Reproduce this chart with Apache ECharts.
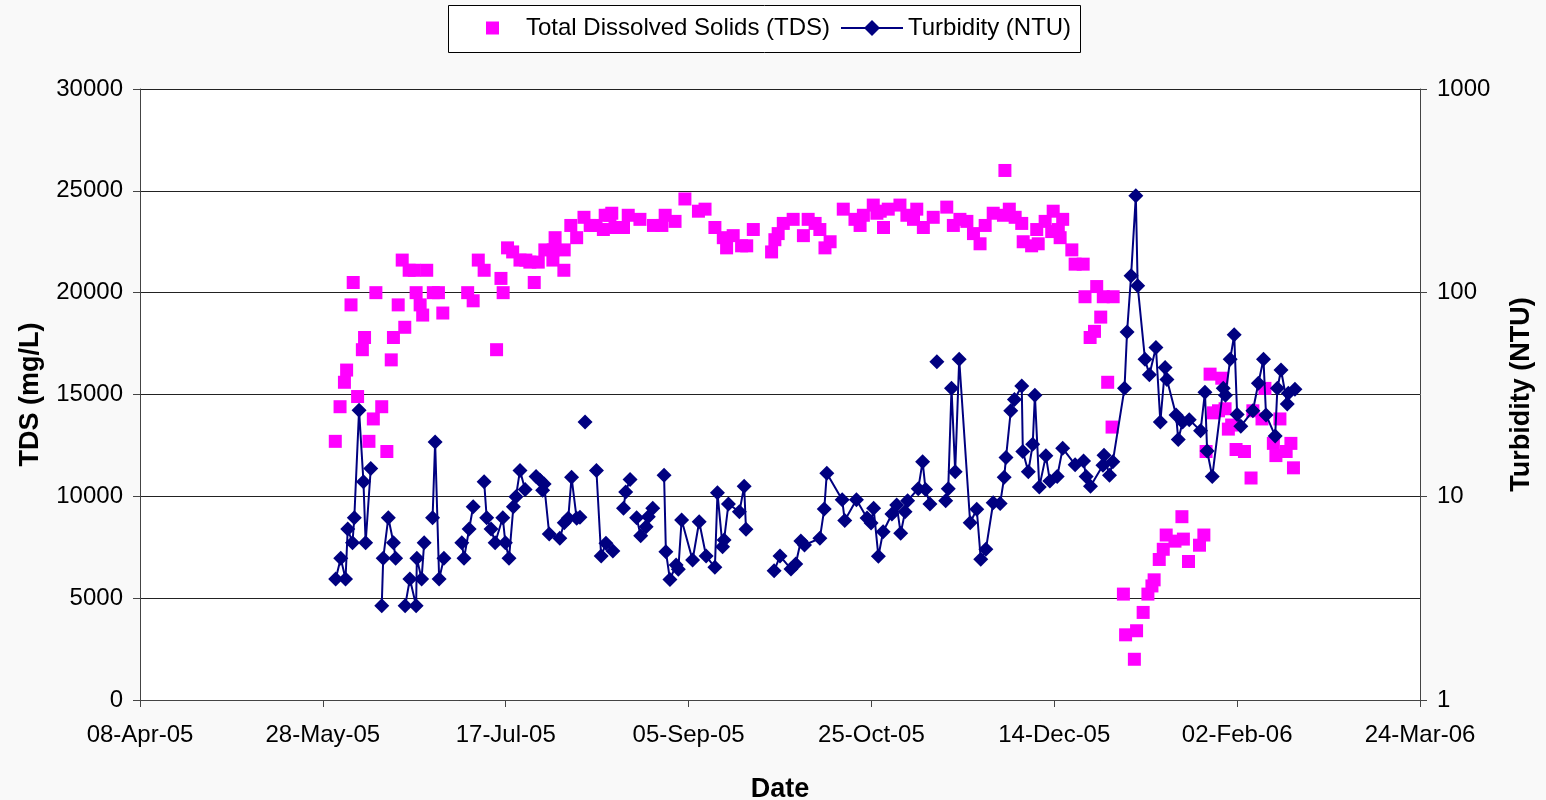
<!DOCTYPE html>
<html>
<head>
<meta charset="utf-8">
<script src="https://cdn.jsdelivr.net/npm/echarts@6/dist/echarts.min.js"></script>
<style>
html,body{margin:0;padding:0;background:#f9f9f9;}
#chart{width:1546px;height:800px;}
</style>
</head>
<body>
<div id="chart"></div>
<script>
// Sampling day = days since 08-Apr-2005
var startDate = '2005-04-08';
var xTickDays = [0, 50, 100, 150, 200, 250, 300, 350];

var tdsDays = [53.4,54.7,55.9,56.5,57.7,58.3,59.5,60.8,61.4,62.6,63.8,64.5,66.1,67.5,68.7,69.3,70.6,71.7,72.4,73.6,75.0,75.5,76.6,77.3,78.4,80.2,81.6,82.8,89.6,91.1,92.5,94.1,97.5,98.7,99.3,100.5,101.9,103.9,105.5,106.6,107.8,108.9,110.7,112.9,113.0,113.5,115.9,116.0,117.8,119.4,121.4,123.1,124.7,126.7,127.2,128.5,129.0,129.9,132.2,133.5,136.7,140.4,142.7,143.6,146.3,149.0,152.7,154.5,157.2,159.5,160.4,162.2,164.5,165.9,167.7,172.7,173.6,174.5,175.9,178.6,181.4,182.7,184.6,185.9,187.3,188.7,192.3,195.5,196.9,197.8,200.5,201.5,202.4,203.3,204.6,207.8,209.7,211.5,212.4,214.2,216.9,220.6,222.4,224.2,226.1,227.9,229.7,231.1,233.3,236.1,236.5,237.7,239.3,241.1,241.5,243.8,245.2,245.6,247.5,249.3,249.7,251.1,251.6,252.3,254.8,255.7,257.9,258.4,259.8,261.0,261.6,262.7,263.4,264.6,265.8,266.1,268.9,269.5,271.9,272.5,274.3,275.6,276.7,277.3,278.7,279.8,280.6,283.0,284.9,285.3,286.7,289.7,290.9,291.5,292.6,293.5,294.9,295.8,296.7,297.6,298.5,299.7,302.0,303.8,304.3,306.8,307.6,309.9,310.6,311.7,313.4,314.7,315.4];
var tdsValues = [12700,14400,15600,16200,19400,20500,14900,17200,17800,12700,13800,20000,14400,12200,16700,17800,19400,21600,18300,21100,21100,20000,19400,18900,21100,20000,20000,19000,20000,19600,21600,21100,17200,20700,20000,22200,22000,21600,21600,21500,20500,21500,22100,21600,22100,22700,21100,22100,23300,22700,23700,23300,23300,23100,23800,23800,23900,23200,23200,23800,23600,23300,23300,23800,23500,24600,24000,24100,23200,22700,22200,22800,22300,22300,23100,22000,22600,22900,23400,23600,22800,23600,23400,23100,22200,22500,24100,23600,23300,23800,24300,23900,24000,23200,24100,24300,23800,23600,24100,23200,23700,24200,23300,23600,23500,22900,22400,23300,23900,23800,26000,24100,23700,23400,22500,22300,23100,22400,23500,23000,24000,23100,22700,23600,22100,21400,21400,19800,17800,18100,20300,18800,19800,15600,13400,19800,5200,3200,2000,3400,4300,5200,5600,5900,6900,7400,8100,7800,9000,7900,6800,7600,8100,12200,16000,14100,14200,15800,14300,13300,13500,12300,12200,10900,14200,13800,15300,12600,12000,13800,12200,12600,11400];

var turbDays = [53.5,54.9,56.2,56.8,58.1,58.6,59.9,61.1,61.7,63.1,64.5,66.1,66.5,67.9,69.3,69.9,71.0,72.5,73.8,75.5,75.7,77.0,77.7,79.0,80.0,80.7,81.8,83.1,85.0,88.0,88.6,90.0,91.1,92.5,94.1,94.8,96.0,97.1,99.2,99.9,100.9,102.1,102.8,103.9,105.3,106.8,108.3,109.4,110.1,110.5,111.9,114.8,116.0,117.1,118.0,119.4,120.3,121.0,121.7,122.5,124.8,126.1,127.4,129.3,130.7,132.2,132.8,134.0,134.9,135.8,136.9,138.4,139.0,140.2,141.8,143.3,143.8,144.9,146.6,147.2,148.1,151.1,152.9,154.8,157.2,157.9,159.3,159.7,160.9,163.9,165.2,165.7,170.0,173.4,175.0,178.0,179.3,180.7,181.7,185.9,187.1,187.8,192.0,192.7,195.9,198.8,199.9,200.6,201.9,203.2,205.6,206.9,208.0,209.2,209.9,212.8,214.0,214.8,216.0,217.0,217.9,219.0,220.3,221.0,221.9,222.9,224.0,227.0,228.8,229.9,231.3,233.3,235.2,236.3,236.8,238.1,239.1,241.1,241.4,242.9,244.1,244.7,245.9,247.7,248.8,250.8,252.3,255.7,258.0,258.7,259.9,263.3,263.6,265.1,266.0,269.2,269.9,271.0,272.3,272.8,274.8,276.0,277.8,279.0,280.3,280.8,283.3,283.9,285.1,286.9,290.0,291.2,291.8,293.2,296.2,296.8,298.1,299.2,300.0,301.0,304.3,305.8,307.2,307.9,310.4,311.0,312.0,313.7,314.0,315.8];
var turbValues = [3.93,4.96,3.93,6.91,5.92,7.85,26.5,11.8,5.92,13.7,null,2.90,4.96,7.85,5.92,4.96,null,2.90,3.93,2.90,4.96,3.93,5.92,null,7.85,18.5,3.93,4.96,null,5.92,4.96,6.91,8.89,null,11.8,7.85,6.91,5.92,7.85,5.92,4.96,8.89,9.96,13.4,10.8,null,12.5,12.0,10.7,11.5,6.53,6.22,7.42,7.80,12.4,7.80,7.89,null,23.2,null,13.4,5.09,5.88,5.39,null,8.73,10.5,12.1,null,7.85,6.41,7.09,7.94,8.73,null,12.7,5.35,3.91,4.60,4.38,7.65,4.87,7.50,5.09,4.48,10.4,5.66,6.10,9.17,8.40,11.2,6.89,null,4.31,5.09,4.40,4.65,6.03,5.77,6.22,8.66,13.0,9.62,7.61,9.62,7.83,7.40,8.73,5.08,6.70,8.19,9.06,6.58,8.40,9.51,10.9,14.8,10.8,9.17,null,45.8,null,9.51,10.9,33.9,13.2,47.1,7.42,8.64,4.91,5.49,9.30,9.23,12.4,15.5,26.3,29.9,34.8,16.6,13.2,18.0,31.4,11.1,15.8,11.9,12.5,17.2,14.3,14.9,12.5,11.2,14.2,15.9,12.7,14.8,33.9,64.1,121,299,108,47.1,39.5,53.8,23.2,42.9,37.5,25.1,19.0,23.2,23.8,21.0,32.4,16.7,12.5,33.9,31.4,47.1,62.1,25.2,22.1,26.3,35.9,47.1,25.1,19.8,33.9,41.7,28.4,32.1,33.6];

var tdsName = 'Total Dissolved Solids (TDS)';
var turbName = 'Turbidity (NTU)';

var MONTHS = ['Jan','Feb','Mar','Apr','May','Jun','Jul','Aug','Sep','Oct','Nov','Dec'];
function dayLabel(d) {
  var base = new Date(startDate + 'T00:00:00Z');
  var t = new Date(base.getTime() + Math.round(d) * 86400000);
  var dd = ('0' + t.getUTCDate()).slice(-2);
  var yy = ('0' + (t.getUTCFullYear() % 100)).slice(-2);
  return dd + '-' + MONTHS[t.getUTCMonth()] + '-' + yy;
}

var tdsData = tdsDays.map(function (d, i) { return [d, tdsValues[i]]; });
var turbData = turbDays.map(function (d, i) { return [d, turbValues[i] == null ? '-' : turbValues[i]]; });

var FONT = '"Liberation Sans", Arial, sans-serif';
var chart = echarts.init(document.getElementById('chart'), null, {renderer: 'canvas'});
chart.setOption({
  backgroundColor: '#f9f9f9',
  animation: false,
  textStyle: {fontFamily: FONT},
  grid: {left: 140, right: 126, top: 89, bottom: 100, show: true, backgroundColor: '#ffffff',
    borderWidth: 0, containLabel: false, outerBoundsMode: 'none'},
  graphic: [{
    type: 'rect', left: 448, top: 5, z: -1,
    shape: {width: 632, height: 47},
    style: {fill: '#ffffff', stroke: '#000000', lineWidth: 1}
  }],
  legend: [{
    data: [{name: tdsName, icon: 'rect'}],
    left: 481, top: 11, itemWidth: 13, itemHeight: 13,
    textStyle: {fontFamily: FONT, fontSize: 24, color: '#000', padding: [0, 0, 0, 22]}
  }, {
    data: [{name: turbName}],
    left: 835, top: 11, itemWidth: 62, itemHeight: 20,
    lineStyle: {width: 2},
    textStyle: {fontFamily: FONT, fontSize: 24, color: '#000', padding: [0, 0, 0, 0]}
  }],
  xAxis: {
    type: 'value', min: 0, max: 350, interval: 50,
    name: 'Date', nameLocation: 'middle', nameGap: 76,
    nameTextStyle: {fontFamily: FONT, fontSize: 27, fontWeight: 'bold', color: '#000'},
    axisLine: {show: true, onZero: false, lineStyle: {color: '#444', width: 1}},
    axisTick: {show: true, inside: false, length: 7, lineStyle: {color: '#444'}},
    axisLabel: {fontFamily: FONT, fontSize: 24, color: '#000', margin: 23,
      formatter: function (v) { return dayLabel(v); }},
    splitLine: {show: false}
  },
  yAxis: [{
    type: 'value', min: 0, max: 30000, interval: 5000, position: 'left',
    name: 'TDS (mg/L)', nameLocation: 'middle', nameGap: 96, nameRotate: 90,
    nameTextStyle: {fontFamily: FONT, fontSize: 27, fontWeight: 'bold', color: '#000'},
    axisLine: {show: true, lineStyle: {color: '#444', width: 1}},
    axisTick: {show: true, inside: false, length: 7, lineStyle: {color: '#444'}},
    axisLabel: {fontFamily: FONT, fontSize: 24, color: '#000', margin: 17,
      formatter: function (v) { return String(v); }},
    splitLine: {show: true, lineStyle: {color: '#222', width: 1}}
  }, {
    type: 'log', logBase: 10, min: 1, max: 1000, position: 'right',
    name: turbName, nameLocation: 'middle', nameGap: 88, nameRotate: 90,
    nameTextStyle: {fontFamily: FONT, fontSize: 27, fontWeight: 'bold', color: '#000'},
    axisLine: {show: true, lineStyle: {color: '#444', width: 1}},
    axisTick: {show: true, inside: false, length: 7, lineStyle: {color: '#444'}},
    axisLabel: {fontFamily: FONT, fontSize: 24, color: '#000', margin: 17,
      formatter: function (v) { return String(Math.round(v)); }},
    splitLine: {show: false},
    minorTick: {show: false}
  }],
  series: [{
    name: tdsName, type: 'scatter', yAxisIndex: 0, z: 2,
    symbol: 'rect', symbolSize: 13,
    itemStyle: {color: '#ff00ff', opacity: 1},
    data: tdsData
  }, {
    name: turbName, type: 'line', yAxisIndex: 1, z: 3,
    symbol: 'diamond', symbolSize: 15, showAllSymbol: true,
    connectNulls: false,
    lineStyle: {color: '#000080', width: 2},
    itemStyle: {color: '#000080'},
    data: turbData
  }]
});
</script>
</body>
</html>
